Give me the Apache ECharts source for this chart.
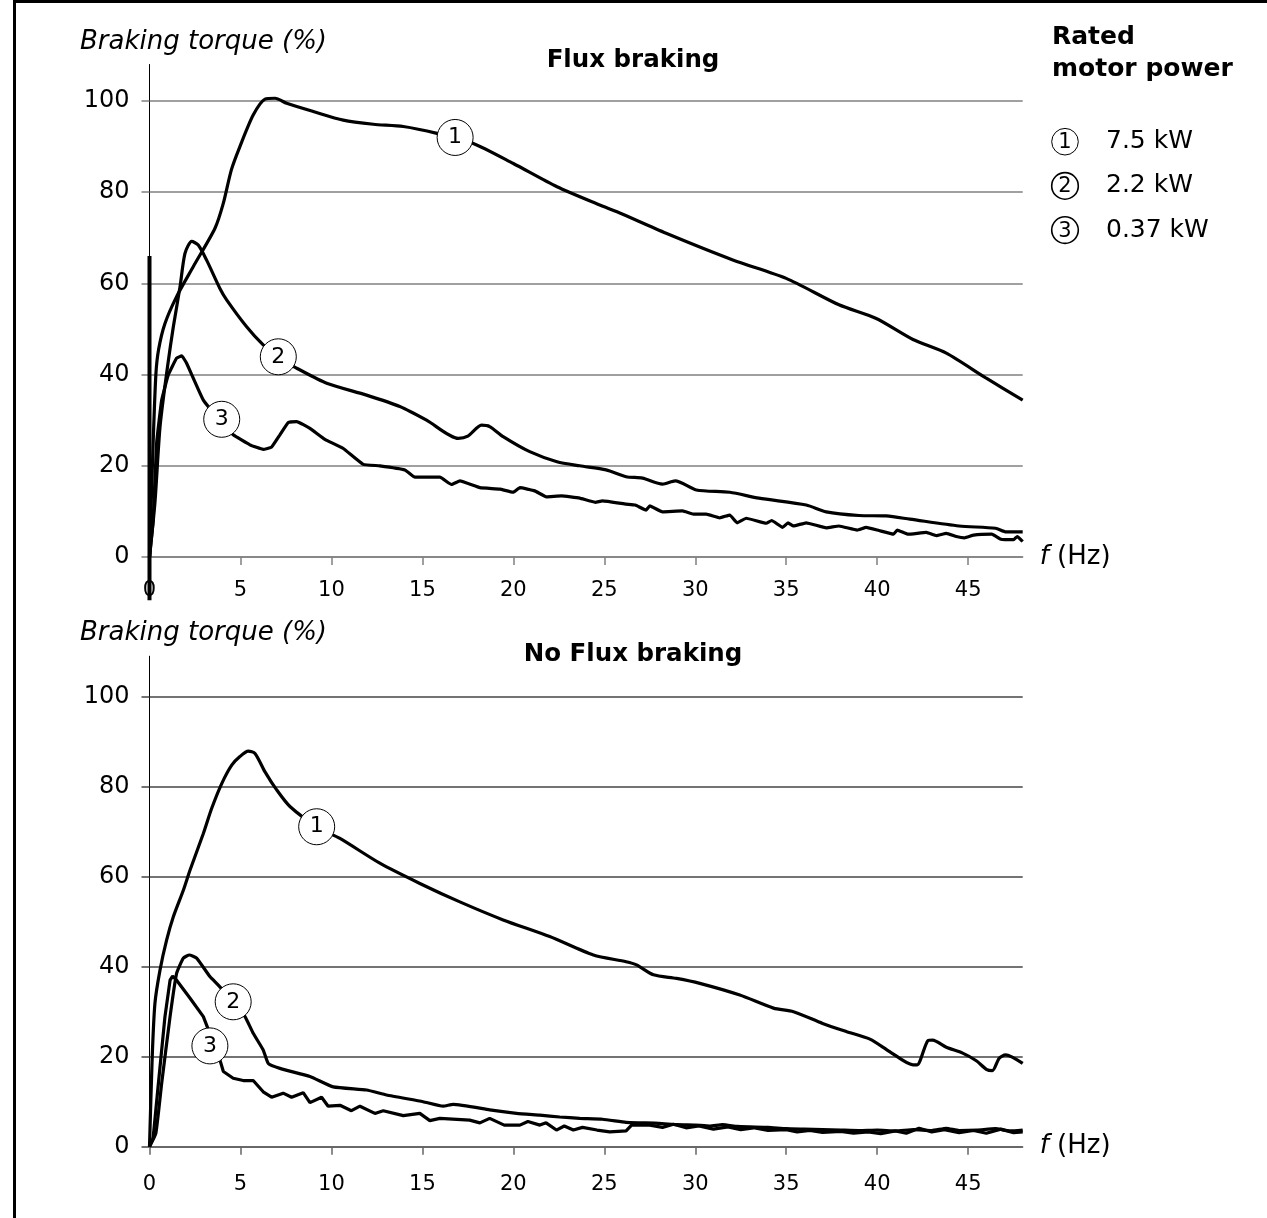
<!DOCTYPE html>
<html>
  <head>
    <meta charset="utf-8">
    <title>Braking torque</title>
    <script src="https://cdn.jsdelivr.net/npm/echarts@6/dist/echarts.min.js"></script>
    <style>
    html, body { margin: 0; padding: 0; background: #fff; }
    #chart { position: absolute; left: 0; top: 0; width: 1267px; height: 1218px; }
    #frame { position: absolute; left: 13px; top: 0; width: 1254px; height: 1218px;
             border-left: 3px solid #000; border-top: 3px solid #000; box-sizing: border-box; pointer-events: none; }
    </style>
  </head>
  <body>
    <div id="chart"></div>
    <div id="frame"></div>
    <script type="text/javascript">
      // tick labels
      var xTicks = [0, 5, 10, 15, 20, 25, 30, 35, 40, 45];
      var yTicks = [0, 20, 40, 60, 80, 100];
      var legendNames = ['7.5 kW', '2.2 kW', '0.37 kW'];

      // Flux braking, [f (Hz), torque %]
      var fluxSpike = [[0, -9.5], [0, 66]];
      var flux1 = [[0,0],[0.2,25],[0.35,40],[0.5,45.5],[0.85,51.2],[1.49,57.1],[2.41,63.7],[3.6,72.1],[4.06,77.6],[4.5,84.9],[4.97,90],[5.7,96.9],[6.35,100.4],[6.9,100.6],[7.54,99.5],[9.0,97.7],[10.65,95.8],[12.3,94.9],[13.95,94.4],[15.8,92.9],[17.8,90.7],[20.0,86.3],[22.4,81.2],[24.75,77.2],[25.7,75.7],[28.4,71.0],[32.1,65.1],[35.0,61.1],[37.9,55.3],[39.95,52.3],[41.97,47.7],[43.8,44.7],[46.0,39.2],[48,34.4]];
      var flux2 = [[0,0],[0.3,12],[0.58,28.6],[1.0,42],[1.31,50.5],[1.68,59.3],[1.95,66.6],[2.32,69.2],[2.68,68.4],[3.14,65.1],[3.87,58.9],[4.24,56.4],[5.34,50.5],[6.25,46.5],[7.1,43.6],[8.09,41.4],[9.74,38.1],[11.93,35.5],[13.76,33.0],[15.23,30.0],[16.97,26.0],[17.5,26.5],[18.25,28.9],[18.7,28.6],[19.44,26.4],[20.9,23.1],[22.4,20.9],[23.65,20.0],[25.1,19.1],[26.2,17.6],[27.1,17.3],[28.2,16.0],[28.9,16.7],[30.06,14.7],[31.9,14.2],[33.5,12.9],[36.1,11.4],[37.2,9.9],[39.0,9.1],[40.5,9.0],[41.8,8.3],[44.5,6.8],[46.5,6.3],[47.1,5.5],[48,5.5]];
      var flux3 = [[0,0],[0.2,8],[0.39,24.9],[0.67,34.4],[1.03,39.9],[1.49,43.6],[1.77,44.1],[2.04,42.5],[2.96,34.4],[3.97,29.5],[4.6,26.8],[5.52,24.6],[6.25,23.6],[6.71,24.1],[7.17,26.8],[7.63,29.5],[8.09,29.7],[8.82,28.2],[9.64,25.8],[10.65,23.8],[11.75,20.3],[12.66,20.0],[14.04,19.1],[14.59,17.5],[15.96,17.5],[16.6,15.9],[17.06,16.7],[18.16,15.2],[19.26,14.9],[19.99,14.2],[20.36,15.2],[21.18,14.5],[21.82,13.2],[22.65,13.4],[23.65,12.9],[24.5,12.0],[24.9,12.3],[26.2,11.6],[26.7,11.4],[27.3,10.3],[27.5,11.2],[28.2,9.9],[29.3,10.1],[29.9,9.4],[30.6,9.4],[31.35,8.6],[31.9,9.2],[32.3,7.5],[32.8,8.5],[33.9,7.4],[34.2,8.0],[34.8,6.5],[35.1,7.5],[35.4,6.8],[36.1,7.5],[37.2,6.4],[37.9,6.8],[38.9,5.9],[39.4,6.5],[40.1,5.8],[40.9,5.0],[41.1,5.9],[41.7,5.0],[42.7,5.4],[43.25,4.7],[43.8,5.2],[44.35,4.5],[44.8,4.2],[45.3,4.8],[46.3,5.0],[46.8,3.9],[47.5,3.8],[47.7,4.5],[48,3.4]];

      // No Flux braking
      var noFlux1 = [[0,0],[0.15,20],[0.3,31.9],[0.58,39.3],[0.94,45.9],[1.31,51.1],[1.86,57.0],[2.23,61.5],[2.96,69.6],[3.42,75.2],[3.97,80.7],[4.52,84.8],[4.97,86.7],[5.43,87.9],[5.8,87.4],[6.35,83.3],[6.99,79.3],[7.72,75.6],[9.2,71.1],[10.47,68.5],[12.66,63.0],[14.86,58.5],[17.06,54.4],[19.44,50.4],[22.0,46.7],[24.4,42.6],[26.2,41.1],[26.77,40.4],[27.7,38.2],[28.97,37.4],[30.25,36.3],[32.45,33.7],[34.3,30.8],[35.4,30.0],[37.0,27.4],[38.3,25.6],[39.6,23.9],[40.7,21.1],[41.97,18.2],[42.2,18.2],[42.8,23.6],[43.05,23.7],[43.8,22.1],[44.7,20.8],[45.45,19.1],[46.0,17.2],[46.33,16.9],[46.7,19.6],[47.06,20.4],[48,18.5]];
      var noFlux2 = [[0,0],[0.35,3],[0.67,14.1],[1.13,28.9],[1.49,38.5],[1.86,41.9],[2.19,42.6],[2.59,41.9],[3.32,37.8],[3.78,35.9],[4.6,32.2],[5.25,28.9],[5.7,25.2],[6.25,21.5],[6.53,18.5],[7.17,17.4],[8.82,15.6],[10.1,13.3],[11.93,12.6],[13.03,11.5],[15.04,10.0],[16.14,9.0],[16.69,9.4],[18.7,8.2],[20.18,7.4],[21.46,7.0],[22.55,6.6],[23.65,6.3],[24.9,6.1],[26.2,5.4],[27,5.3],[28,5.2],[29,4.9],[30,4.8],[30.8,4.6],[31.5,4.9],[32.3,4.5],[33,4.4],[34,4.3],[35,4.0],[36,3.9],[37,3.8],[38,3.7],[39,3.6],[40,3.7],[41,3.5],[42,3.8],[43,3.6],[43.8,4.1],[44.5,3.6],[45.5,3.7],[46.5,4.0],[47.3,3.5],[48,3.7]];
      var noFlux3 = [[0,0],[0.2,2],[0.49,14.1],[0.85,28.9],[1.13,37.0],[1.27,37.9],[1.49,37.0],[2.23,33.0],[2.96,28.9],[3.87,19.3],[4.06,16.7],[4.6,15.2],[5.15,14.7],[5.7,14.7],[6.25,12.2],[6.71,11.0],[7.35,11.9],[7.81,11.0],[8.45,12.0],[8.82,9.8],[9.46,11.0],[9.82,9.0],[10.47,9.2],[11.1,8.0],[11.57,9.0],[12.39,7.4],[12.85,8.0],[13.95,6.9],[14.86,7.4],[15.41,5.8],[15.96,6.3],[17.6,5.9],[18.16,5.3],[18.7,6.3],[19.5,4.8],[20.36,4.8],[20.8,5.6],[21.46,4.8],[21.8,5.3],[22.37,3.7],[22.8,4.6],[23.3,3.7],[23.8,4.3],[24.6,3.7],[25.3,3.3],[26.2,3.5],[26.5,4.8],[27.5,4.8],[28.2,4.3],[28.8,5.0],[29.5,4.2],[30.2,4.6],[31,3.9],[31.8,4.4],[32.5,3.8],[33.2,4.2],[34,3.6],[35,3.8],[35.6,3.3],[36.3,3.6],[37,3.2],[38,3.4],[38.7,3.0],[39.5,3.3],[40.2,2.9],[41,3.5],[41.6,3.0],[42.3,4.1],[43,3.3],[43.7,3.8],[44.5,3.1],[45.3,3.6],[46,3.0],[46.8,3.9],[47.5,3.1],[48,3.3]];

      // numbered tags on the curves: [f, torque, number]
      var fluxTags = [[16.8, 92.0, '1'], [7.08, 43.9, '2'], [3.97, 30.2, '3']];
      var noFluxTags = [[9.19, 71.1, '1'], [4.6, 32.2, '2'], [3.32, 22.4, '3']];

      var font = '"DejaVu Sans", "Liberation Sans", sans-serif';

      function xAx(idx, col, margin) {
        return {
          type: 'value', gridIndex: idx, min: 0, max: 48, interval: 5,
          axisLine: { lineStyle: { color: col, width: 1.5 } },
          axisTick: { show: true, length: 8, customValues: xTicks, lineStyle: { color: col, width: 1.5 } },
          axisLabel: { customValues: xTicks, margin: margin, fontSize: 21, color: '#000', fontFamily: font },
          splitLine: { show: false },
          name: '{i|f} (Hz)', nameLocation: 'end', nameGap: 17,
          nameTextStyle: { fontSize: 26, color: '#000', fontFamily: font,
            rich: { i: { fontStyle: 'italic', fontSize: 26, color: '#000', fontFamily: font } } }
        };
      }
      function yAx(idx, col, max) {
        return {
          type: 'value', gridIndex: idx, min: 0, max: max, interval: 20,
          axisLine: { show: true, lineStyle: { color: '#000', width: 1 } },
          axisTick: { show: true, length: 8, customValues: yTicks, lineStyle: { color: col, width: 1.5 } },
          axisLabel: { customValues: yTicks, margin: 20, fontSize: 24, color: '#000', fontFamily: font },
          splitLine: { show: true, lineStyle: { color: col, width: 1.5 } }
        };
      }
      function curve(idx, data, smooth, width) {
        return {
          type: 'line', xAxisIndex: idx, yAxisIndex: idx, data: data,
          showSymbol: false, smooth: smooth, silent: true, clip: false,
          lineStyle: { color: '#000', width: width || 3.2 }, z: 3
        };
      }
      function tags(idx, list) {
        return {
          type: 'scatter', xAxisIndex: idx, yAxisIndex: idx, silent: true,
          data: list.map(function (t) { return { value: [t[0], t[1]], name: t[2] }; }),
          symbolSize: 36,
          itemStyle: { color: '#fff', borderColor: '#000', borderWidth: 1, opacity: 1 },
          label: { show: true, position: 'inside', formatter: '{b}', color: '#000', fontSize: 22, fontFamily: font },
          z: 6
        };
      }

      var legendGraphics = [];
      legendNames.forEach(function (n, i) {
        var cy = 141.7 + i * 44.2;
        legendGraphics.push({ type: 'circle', shape: { cx: 1065, cy: cy, r: 13.3 },
          style: { fill: '#fff', stroke: '#000', lineWidth: i === 0 ? 1 : 1.6 } });
        legendGraphics.push({ type: 'text', x: 1065, y: cy + 1,
          style: { text: String(i + 1), fontSize: 21, fontFamily: font, fill: '#000', align: 'center', verticalAlign: 'middle' } });
        legendGraphics.push({ type: 'text', x: 1106, y: cy,
          style: { text: n, fontSize: 25, fontFamily: font, fill: '#000', align: 'left', verticalAlign: 'middle' } });
      });

      function label(text, x, y, opts) {
        return { type: 'text', x: x, y: y,
          style: Object.assign({ text: text, fontSize: 26, fontFamily: font, fill: '#000',
            align: 'left', verticalAlign: 'middle' }, opts) };
      }

      var chart = echarts.init(document.getElementById('chart'));
      var option = {
        animation: false,
        backgroundColor: '#fff',
        grid: [
          { left: 149.5, top: 64.5, width: 873.2, height: 492.5 },
          { left: 149.5, top: 656.2, width: 873.2, height: 490.5 }
        ],
        xAxis: [xAx(0, '#808080', 23), xAx(1, '#666', 27)],
        yAxis: [yAx(0, '#808080', 108), yAx(1, '#444', 109)],
        series: [
          curve(0, fluxSpike, false, 4),
          curve(0, flux1, 0.25),
          curve(0, flux2, 0.25),
          curve(0, flux3, 0.1),
          tags(0, fluxTags),
          curve(1, noFlux1, 0.25),
          curve(1, noFlux2, 0.15),
          curve(1, noFlux3, false),
          tags(1, noFluxTags)
        ],
        graphic: [
          label('Braking torque (%)', 80, 42, { fontStyle: 'italic', fontSize: 26 }),
          label('Braking torque (%)', 80, 633, { fontStyle: 'italic', fontSize: 26 }),
          label('Flux braking', 633, 61, { fontWeight: 'bold', fontSize: 24.5, align: 'center' }),
          label('No Flux braking', 633, 655, { fontWeight: 'bold', fontSize: 24.5, align: 'center' }),
          label('Rated', 1052, 37, { fontWeight: 'bold', fontSize: 25 }),
          label('motor power', 1052, 69, { fontWeight: 'bold', fontSize: 25 })
        ].concat(legendGraphics)
      };
      chart.setOption(option);
    </script>
  </body>
</html>
